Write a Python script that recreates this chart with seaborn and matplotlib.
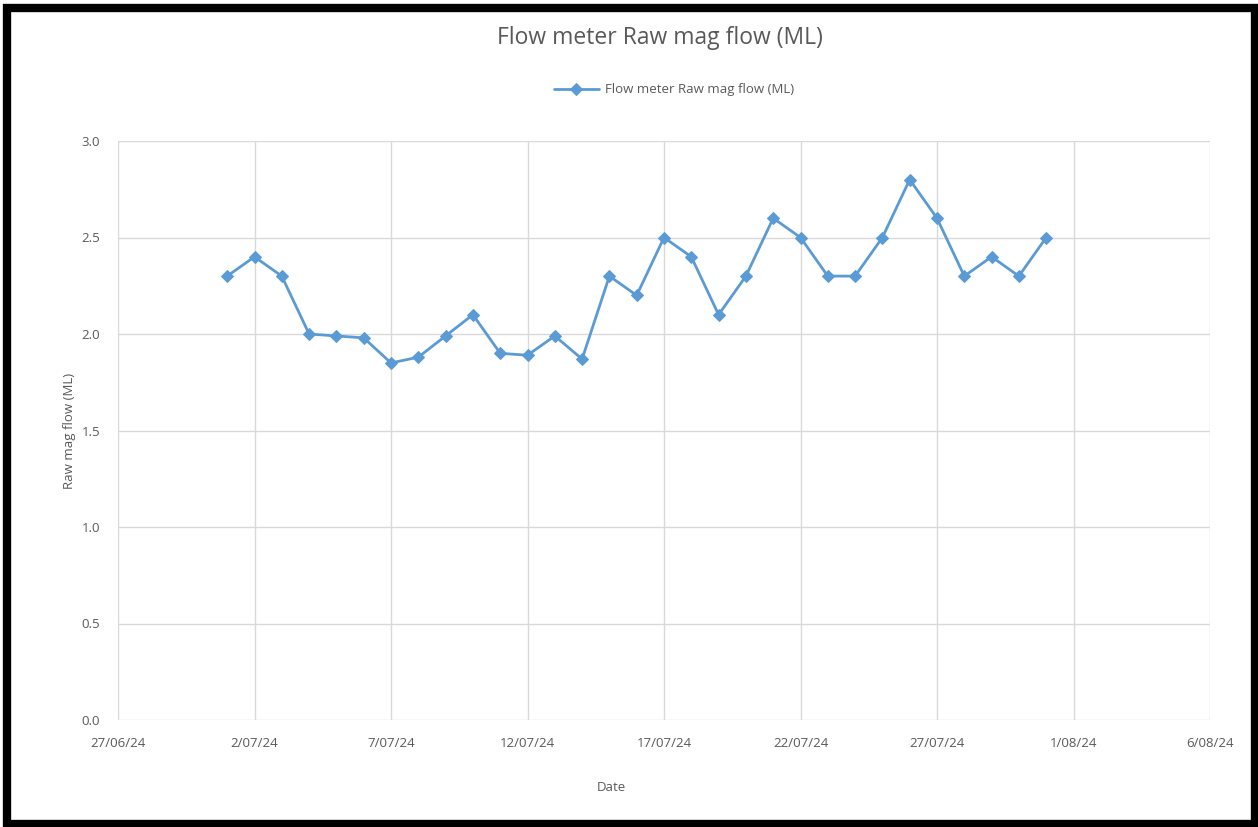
import matplotlib
matplotlib.use("Agg")
import matplotlib.pyplot as plt
from matplotlib.patches import Rectangle
import pandas as pd
import seaborn as sns

# Daily readings, 1 July to 31 July 2024
start_date = "2024-07-01"
flow_ml = [2.30, 2.40, 2.30, 2.00, 1.99, 1.98, 1.85, 1.88, 1.99, 2.10,
           1.90, 1.89, 1.99, 1.87, 2.30, 2.20, 2.50, 2.40, 2.10, 2.30,
           2.60, 2.50, 2.30, 2.30, 2.50, 2.80, 2.60, 2.30, 2.40, 2.30,
           2.50]
series_name = "Flow meter Raw mag flow (ML)"
x_start, x_end = "2024-06-27", "2024-08-06"
y_ticks = [0.0, 0.5, 1.0, 1.5, 2.0, 2.5, 3.0]

df = pd.DataFrame({
    "Date": pd.date_range(start_date, periods=len(flow_ml), freq="D"),
    "flow": flow_ml,
})

sns.set_theme(style="whitegrid")
plt.rcParams["font.family"] = ["Open Sans", "DejaVu Sans"]
text_grey = "#595959"
grid_grey = "#d9d9d9"
blue = "#5B9BD5"

W, H = 1258, 827
fig = plt.figure(figsize=(W / 100, H / 100), dpi=100)
fig.patch.set_facecolor("white")
ax = fig.add_axes([118 / W, 1 - 720 / H, (1210 - 118) / W, (720 - 141) / H])

sns.lineplot(data=df, x="Date", y="flow", ax=ax, color=blue, linewidth=2.0,
             marker="D", markersize=6, markeredgecolor=blue,
             markerfacecolor=blue, label=series_name, legend=False)

ax.set_xlim(pd.Timestamp(x_start), pd.Timestamp(x_end))
ax.set_ylim(y_ticks[0], y_ticks[-1])
ax.set_yticks(y_ticks)
ax.yaxis.set_major_formatter(matplotlib.ticker.FormatStrFormatter("%.1f"))

x_ticks = pd.date_range(x_start, x_end, freq="5D")
ax.set_xticks(x_ticks)
ax.set_xticklabels([f"{d.day}/{d:%m/%y}" for d in x_ticks])

ax.grid(True, color=grid_grey, linewidth=1.0)
for s in ax.spines.values():
    s.set_visible(False)
ax.tick_params(axis="both", length=0, labelsize=9.5, colors=text_grey)
ax.tick_params(axis="x", pad=12)
ax.tick_params(axis="y", pad=13)

ax.set_xlabel("Date", fontsize=9.5, color=text_grey)
ax.xaxis.set_label_coords(0.452, -0.105)
ax.set_ylabel("Raw mag flow (ML)", fontsize=9.5, color=text_grey, labelpad=4)

fig.text(660 / W, 1 - 38 / H, series_name, ha="center", va="center",
         fontsize=16.5, color=text_grey)

handles, labels = ax.get_legend_handles_labels()
leg = fig.legend(handles, labels, loc="center", bbox_to_anchor=(674 / W, 1 - 90 / H),
                 frameon=False, fontsize=9.5, handlelength=3.4, handletextpad=0.5)
for t in leg.get_texts():
    t.set_color(text_grey)

# Outer frame around the chart
fig.patches.append(Rectangle((7 / W, 3.5 / H), (1255 - 7) / W, (819 - 3.5) / H,
                             transform=fig.transFigure, fill=False,
                             edgecolor="black", linewidth=6, zorder=10))

fig.savefig("out.png", dpi=100)
